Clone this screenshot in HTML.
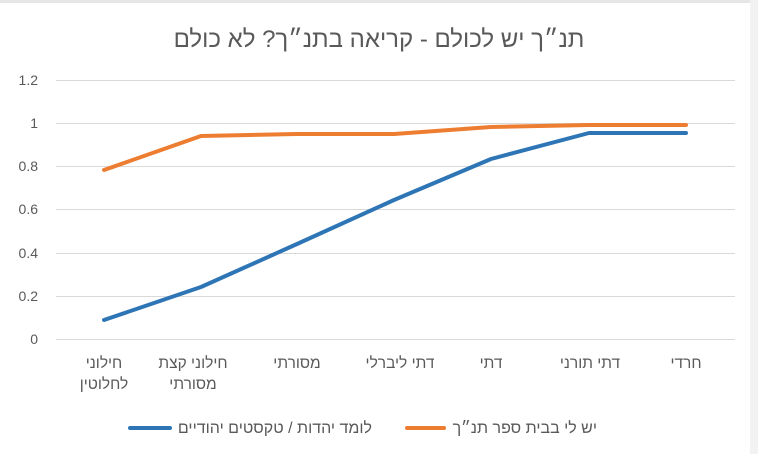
<!DOCTYPE html>
<html><head><meta charset="utf-8"><style>
html,body{margin:0;padding:0;background:#fff;}
svg{display:block;}
text{font-family:"Liberation Sans","DejaVu Sans",sans-serif;fill:#595959;}
</style></head><body>
<svg width="758" height="454" viewBox="0 0 758 454" xmlns="http://www.w3.org/2000/svg">
<rect x="0" y="0" width="758" height="454" fill="#fff"/>
<rect x="0" y="0" width="758" height="3" fill="#e6e6e6"/>
<rect x="750" y="0" width="8" height="454" fill="#f2f2f2"/>
<text x="379" y="47" font-size="24" text-anchor="middle" direction="rtl">תנ״ך יש לכולם - קריאה בתנ״ך? לא כולם</text>
<g stroke="#d9d9d9" stroke-width="1">
<line x1="56" x2="735" y1="80.5" y2="80.5"/>
<line x1="56" x2="735" y1="123.5" y2="123.5"/>
<line x1="56" x2="735" y1="166.5" y2="166.5"/>
<line x1="56" x2="735" y1="209.5" y2="209.5"/>
<line x1="56" x2="735" y1="253.5" y2="253.5"/>
<line x1="56" x2="735" y1="296.5" y2="296.5"/>
<line x1="56" x2="735" y1="339.5" y2="339.5"/>
</g>
<g font-size="14" text-anchor="end">
<text x="38" y="85">1.2</text>
<text x="38" y="128">1</text>
<text x="38" y="171">0.8</text>
<text x="38" y="214">0.6</text>
<text x="38" y="258">0.4</text>
<text x="38" y="301">0.2</text>
<text x="38" y="344">0</text>
</g>
<g font-size="15.5" text-anchor="middle" direction="rtl">
<text x="104" y="368">חילוני</text>
<text x="104" y="389">לחלוטין</text>
<text x="193" y="368">חילוני קצת</text>
<text x="193" y="389">מסורתי</text>
<text x="297" y="368">מסורתי</text>
<text x="400" y="368">דתי ליברלי</text>
<text x="491" y="368">דתי</text>
<text x="590" y="368">דתי תורני</text>
<text x="686" y="368">חרדי</text>
</g>
<polyline fill="none" stroke="#ed7d31" stroke-width="4" stroke-linejoin="round" stroke-linecap="round"
 points="104,170 201,136 297,134 394,134 491,127 589,125 686,125"/>
<polyline fill="none" stroke="#2e75b6" stroke-width="4" stroke-linejoin="round" stroke-linecap="round"
 points="104,320 201,287 297,244 394,200 491,159 589,133 686,133"/>
<line x1="130" x2="170" y1="428" y2="428" stroke="#2e75b6" stroke-width="4" stroke-linecap="round"/>
<text x="372" y="433" font-size="16" text-anchor="start" direction="rtl">לומד יהדות / טקסטים יהודיים</text>
<line x1="407" x2="444" y1="428" y2="428" stroke="#ed7d31" stroke-width="4" stroke-linecap="round"/>
<text x="597" y="433" font-size="16" text-anchor="start" direction="rtl">יש לי בבית ספר תנ״ך</text>
</svg>
</body></html>
